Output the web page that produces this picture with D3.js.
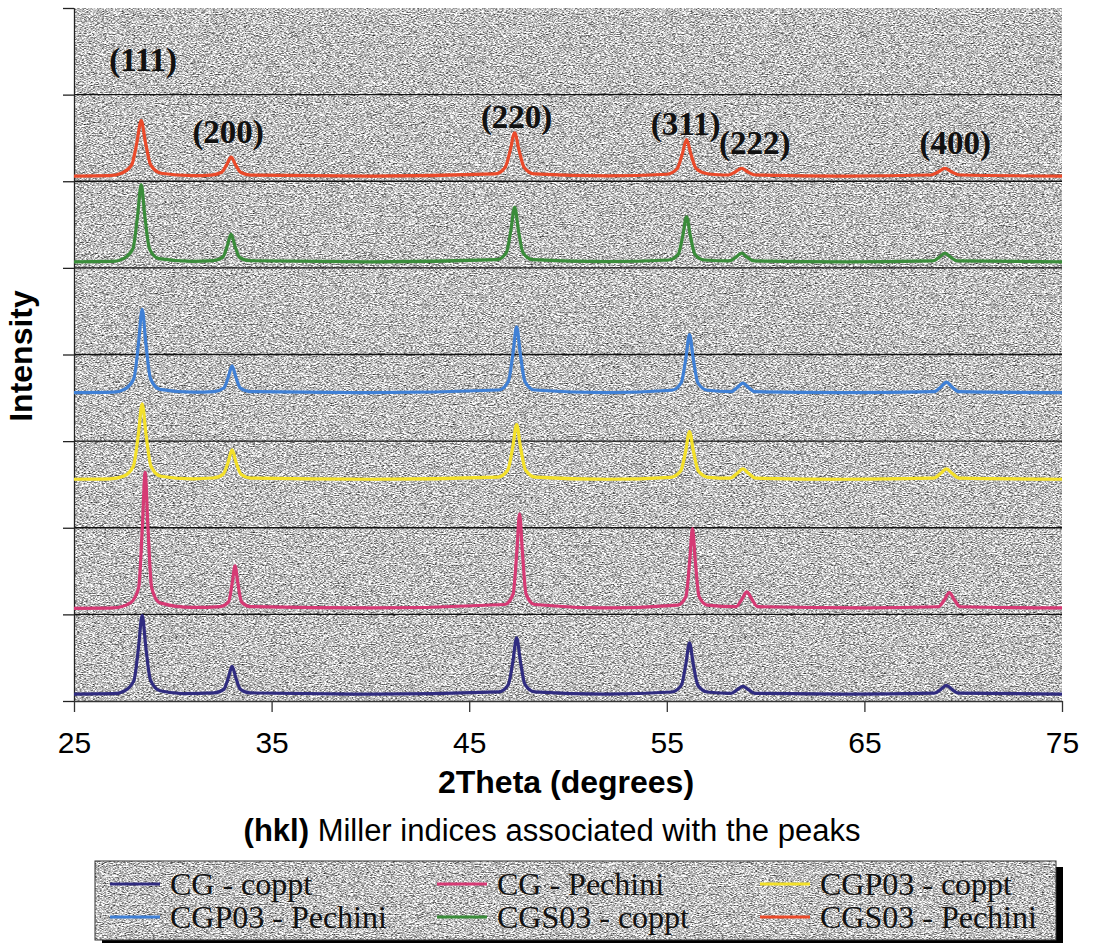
<!DOCTYPE html>
<html>
<head>
<meta charset="utf-8">
<script src="https://cdn.jsdelivr.net/npm/d3@7/dist/d3.min.js"></script>
<style>
  html, body { margin: 0; padding: 0; background: #ffffff; }
  svg { display: block; }
</style>
</head>
<body>
<svg id="chart" width="1094" height="943"></svg>
<script>
// X-ray diffraction patterns, stacked (intensity already offset per sample)
const xTicks = [25, 35, 45, 55, 65, 75];
const yTicks = [0, 1000, 2000, 3000, 4000, 5000, 6000, 7000, 8000];

const seriesNames = ["CG - coppt", "CG - Pechini", "CGP03 - coppt",
                     "CGP03 - Pechini", "CGS03 - coppt", "CGS03 - Pechini"];
const seriesColors = ["#302c80", "#d63a74", "#f3e02a", "#3f80d6", "#3a8c3a", "#ea4a2a"];

// [2theta (deg), intensity]
const cgCoppt = [
  [25, 80], [27.0, 84], [27.55, 116], [28.03, 235], [28.26, 608], [28.45, 990], [28.64, 610], [28.87, 240], [29.35, 118],
  [30.5, 86], [32.1, 93], [32.58, 134], [32.81, 266], [33.0, 400], [33.19, 268], [33.42, 136], [33.9, 93],
  [40, 80], [46.5, 106], [46.98, 190], [47.21, 457], [47.4, 730], [47.59, 460], [47.82, 192], [48.3, 106],
  [52, 80], [55.25, 104], [55.73, 180], [55.96, 422], [56.15, 670], [56.34, 425], [56.57, 182], [57.05, 104],
  [58.25, 89], [58.57, 130], [58.85, 170], [59.13, 130], [59.45, 89],
  [64, 80], [68.55, 90], [68.87, 135], [69.15, 180], [69.43, 135], [69.75, 90], [75, 80]
];
const cgPechini = [
  [25, 1070], [27.0, 1075], [27.85, 1133], [28.27, 1306], [28.46, 2012], [28.6, 2640], [28.74, 2012], [28.93, 1306], [29.35, 1133],
  [31, 1080], [32.4, 1090], [32.82, 1144], [33.01, 1364], [33.15, 1560], [33.29, 1364], [33.48, 1144], [33.9, 1090],
  [40, 1075], [46.8, 1114], [47.22, 1234], [47.41, 1724], [47.55, 2160], [47.69, 1724], [47.88, 1234], [48.3, 1114],
  [52, 1075], [55.55, 1107], [55.97, 1208], [56.16, 1622], [56.3, 1990], [56.44, 1622], [56.63, 1208], [57.05, 1107],
  [58.5, 1089], [58.8, 1175], [59.05, 1260], [59.3, 1175], [59.6, 1089],
  [65, 1075], [68.75, 1088], [69.05, 1169], [69.3, 1250], [69.55, 1169], [69.85, 1088], [75, 1075]
];
const cgp03Coppt = [
  [25, 2560], [26.8, 2565], [27.5, 2595], [28.0, 2708], [28.25, 3065], [28.45, 3430], [28.65, 3065], [28.9, 2708], [29.4, 2595],
  [31, 2565], [32.05, 2574], [32.55, 2618], [32.8, 2757], [33.0, 2900], [33.2, 2757], [33.45, 2618], [33.95, 2574],
  [40, 2560], [46.45, 2585], [46.95, 2667], [47.2, 2925], [47.4, 3190], [47.6, 2925], [47.85, 2667], [48.35, 2585],
  [52, 2560], [55.2, 2582], [55.7, 2654], [55.95, 2879], [56.15, 3110], [56.35, 2879], [56.6, 2654], [57.1, 2582],
  [58.2, 2572], [58.55, 2626], [58.85, 2680], [59.15, 2626], [59.5, 2572],
  [64, 2560], [68.5, 2572], [68.85, 2626], [69.15, 2680], [69.45, 2626], [69.8, 2572], [75, 2560]
];
const cgp03Pechini = [
  [25, 3560], [27.0, 3565], [27.55, 3598], [28.03, 3723], [28.26, 4117], [28.45, 4520], [28.64, 4117], [28.87, 3723], [29.35, 3598],
  [31, 3565], [32.1, 3572], [32.58, 3613], [32.81, 3740], [33.0, 3870], [33.19, 3740], [33.42, 3613], [33.9, 3572],
  [40, 3560], [46.5, 3590], [46.98, 3689], [47.21, 4001], [47.4, 4320], [47.59, 4001], [47.82, 3689], [48.3, 3590],
  [52, 3560], [55.25, 3587], [55.73, 3674], [55.96, 3949], [56.15, 4230], [56.34, 3949], [56.57, 3674], [57.05, 3587],
  [58.25, 3571], [58.57, 3620], [58.85, 3670], [59.13, 3620], [59.45, 3571],
  [64, 3560], [68.55, 3572], [68.87, 3626], [69.15, 3680], [69.43, 3626], [69.75, 3572], [75, 3560]
];
const cgs03Coppt = [
  [25, 5070], [27.0, 5074], [27.5, 5106], [27.98, 5221], [28.21, 5586], [28.4, 5960], [28.59, 5586], [28.82, 5221], [29.3, 5106],
  [31, 5075], [32.05, 5083], [32.53, 5124], [32.76, 5256], [32.95, 5390], [33.14, 5256], [33.37, 5124], [33.85, 5083],
  [40, 5070], [46.4, 5095], [46.88, 5177], [47.11, 5435], [47.3, 5700], [47.49, 5435], [47.72, 5177], [48.2, 5095],
  [52, 5072], [55.1, 5091], [55.58, 5158], [55.81, 5372], [56.0, 5590], [56.19, 5372], [56.42, 5158], [56.9, 5091],
  [58.15, 5080], [58.5, 5125], [58.78, 5170], [59.06, 5125], [59.4, 5080],
  [64, 5070], [68.45, 5080], [68.8, 5125], [69.08, 5170], [69.36, 5125], [69.7, 5080], [75, 5070]
];
const cgs03Pechini = [
  [25, 6060], [26.8, 6064], [27.4, 6092], [27.92, 6188], [28.18, 6444], [28.4, 6700], [28.62, 6444], [28.88, 6188], [29.4, 6092],
  [31, 6064], [31.95, 6071], [32.47, 6104], [32.73, 6192], [32.95, 6280], [33.17, 6192], [33.43, 6104], [33.95, 6071],
  [40, 6060], [46.3, 6085], [46.82, 6160], [47.08, 6360], [47.3, 6560], [47.52, 6360], [47.78, 6160], [48.3, 6085],
  [52, 6062], [55.0, 6081], [55.52, 6144], [55.78, 6312], [56.0, 6480], [56.22, 6312], [56.48, 6150], [57.0, 6090],
  [57.6, 6075], [58.1, 6072], [58.48, 6110], [58.78, 6150], [59.08, 6110], [59.5, 6072],
  [64, 6060], [68.35, 6072], [68.75, 6110], [69.08, 6150], [69.4, 6110], [69.85, 6072], [75, 6060]
];
const seriesData = [cgCoppt, cgPechini, cgp03Coppt, cgp03Pechini, cgs03Coppt, cgs03Pechini];

// Miller index annotations: label, 2theta, intensity of the text baseline
const hklLabels = ["(111)", "(200)", "(220)", "(311)", "(222)", "(400)"];
const hklTheta = [28.5, 32.8, 47.4, 55.95, 59.45, 69.6];
const hklLevel = [7270, 6440, 6610, 6530, 6310, 6310];

const svg = d3.select("#chart");
const plot = { left: 74, right: 1062, top: 8, bottom: 701 };

const x = d3.scaleLinear().domain([25, 75]).range([plot.left, plot.right]);
const y = d3.scaleLinear().domain([0, 8000]).range([plot.bottom, plot.top]);

// granite-like texture for the plot area and legend
const defs = svg.append("defs");
const tex = defs.append("filter").attr("id", "granite")
  .attr("x", 0).attr("y", 0).attr("width", 1).attr("height", 1)
  .attr("color-interpolation-filters", "sRGB");
tex.append("feTurbulence").attr("type", "fractalNoise")
  .attr("baseFrequency", "0.45 1.1").attr("numOctaves", 2).attr("seed", 7).attr("result", "n");
tex.append("feColorMatrix").attr("in", "n").attr("type", "matrix")
  .attr("values", "1.6 0 0 0 -0.05  1.6 0 0 0 -0.05  1.6 0 0 0 -0.05  0 0 0 0 1").attr("result", "g");
tex.append("feComposite").attr("in", "g").attr("in2", "SourceGraphic").attr("operator", "in");

svg.append("rect")
  .attr("x", plot.left).attr("y", plot.top)
  .attr("width", plot.right - plot.left).attr("height", plot.bottom - plot.top)
  .attr("fill", "#b8b8b8").attr("filter", "url(#granite)");

// horizontal gridlines
svg.append("g").selectAll("line")
  .data(yTicks.filter(d => d > 0 && d < 8000))
  .join("line")
  .attr("x1", plot.left).attr("x2", plot.right)
  .attr("y1", d => y(d)).attr("y2", d => y(d))
  .attr("stroke", "#111").attr("stroke-width", 1.3);

// y axis (no labels)
const yAxis = svg.append("g")
  .attr("transform", `translate(${plot.left},0)`)
  .call(d3.axisLeft(y).tickValues(yTicks).tickFormat("").tickSize(11).tickSizeOuter(0));
yAxis.selectAll("path, line").attr("stroke", "#222").attr("stroke-width", 1.3);

// x axis
const xAxis = svg.append("g")
  .attr("transform", `translate(0,${plot.bottom})`)
  .call(d3.axisBottom(x).tickValues(xTicks).tickFormat(d3.format("d")).tickSize(11).tickSizeOuter(0).tickPadding(20));
xAxis.selectAll("path, line").attr("stroke", "#333").attr("stroke-width", 1.3);
xAxis.selectAll("text")
  .attr("font-family", "'Liberation Sans', Arial, sans-serif")
  .attr("font-size", 30).attr("fill", "#000");

// diffraction traces
const line = d3.line()
  .x(d => x(d[0])).y(d => y(d[1]))
  .curve(d3.curveMonotoneX);

svg.append("g").selectAll("path")
  .data(seriesData)
  .join("path")
  .attr("d", line)
  .attr("fill", "none")
  .attr("stroke", (d, i) => seriesColors[i])
  .attr("stroke-width", 3.2)
  .attr("stroke-linejoin", "round");

// hkl annotations
svg.append("g").selectAll("text")
  .data(hklLabels)
  .join("text")
  .attr("x", (d, i) => x(hklTheta[i]))
  .attr("y", (d, i) => y(hklLevel[i]))
  .attr("text-anchor", "middle")
  .attr("font-family", "'Liberation Serif', 'Times New Roman', serif")
  .attr("font-weight", "bold")
  .attr("font-size", 33)
  .attr("fill", "#111")
  .text(d => d);

// axis titles
svg.append("text")
  .attr("x", 566).attr("y", 793)
  .attr("text-anchor", "middle")
  .attr("font-family", "'Liberation Sans', Arial, sans-serif")
  .attr("font-weight", "bold").attr("font-size", 32)
  .text("2Theta (degrees)");

svg.append("text")
  .attr("transform", "translate(32,356) rotate(-90)")
  .attr("text-anchor", "middle")
  .attr("font-family", "'Liberation Sans', Arial, sans-serif")
  .attr("font-weight", "bold").attr("font-size", 32)
  .text("Intensity");

const note = svg.append("text")
  .attr("x", 552).attr("y", 841)
  .attr("text-anchor", "middle")
  .attr("font-family", "'Liberation Sans', Arial, sans-serif")
  .attr("font-size", 31);
note.append("tspan").attr("font-weight", "bold").text("(hkl)");
note.append("tspan").text(" Miller indices associated with the peaks");

// legend
const lg = { x: 95, y: 861, w: 961, h: 79 };
svg.append("rect")
  .attr("x", lg.x + 7).attr("y", lg.y + 6).attr("width", lg.w).attr("height", lg.h)
  .attr("fill", "#000");
svg.append("rect")
  .attr("x", lg.x).attr("y", lg.y).attr("width", lg.w).attr("height", lg.h)
  .attr("fill", "#b8b8b8").attr("filter", "url(#granite)");
svg.append("rect")
  .attr("x", lg.x).attr("y", lg.y).attr("width", lg.w).attr("height", lg.h)
  .attr("fill", "none").attr("stroke", "#333").attr("stroke-width", 1);

const colX = [170, 497, 820];
const rowY = [895, 928];
const items = svg.append("g").selectAll("g")
  .data(seriesNames)
  .join("g")
  .attr("transform", (d, i) => `translate(${colX[i % 3]},${rowY[Math.floor(i / 3)]})`);
items.append("line")
  .attr("x1", -60).attr("x2", -10).attr("y1", -11).attr("y2", -11)
  .attr("stroke", (d, i) => seriesColors[i]).attr("stroke-width", 2.8);
items.append("text")
  .attr("font-family", "'Liberation Serif', 'Times New Roman', serif")
  .attr("font-size", 32).attr("fill", "#111")
  .text(d => d);
</script>
</body>
</html>
